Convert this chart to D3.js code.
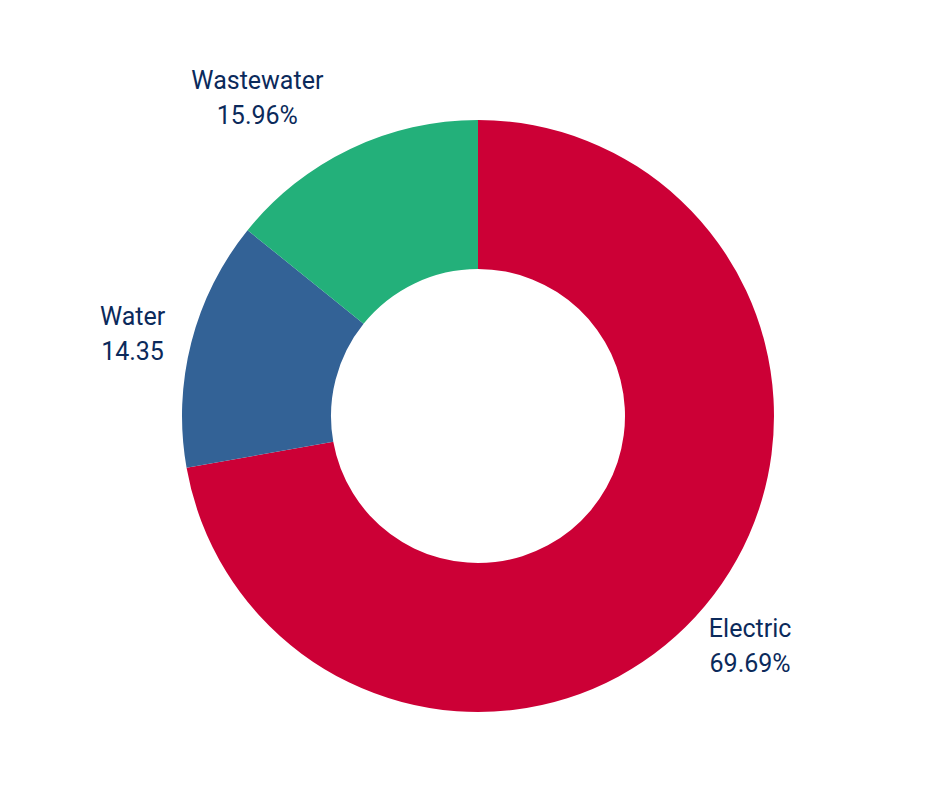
<html>
<head>
    <title>Donut Chart</title>
    <meta charset="utf-8" />
    <style>
      body {
    margin: 0;
    padding: 0;
    background: #fff;
}

.label text {
    fill: #0b2a5b;
    font-family: Roboto, sans-serif;
    font-size: 25px;
    text-anchor: middle;
}
    </style>
    <script src="https://d3js.org/d3.v7.min.js"></script>
</head>
<body>
    <script>
var categories = ["Electric", "Water", "Wastewater"];
var values = [72.2, 13.6, 14.2];
var valueLabels = ["69.69%", "14.35", "15.96%"];
var colors = ["#cc0036", "#336296", "#23b07a"];

var width = 940, height = 788;
var cx = 478, cy = 416, outerR = 296, innerR = 147;

var data = categories.map(function (c, i) {
    return { name: c, value: values[i], label: valueLabels[i], color: colors[i] };
});

var svg = d3.select("body").append("svg")
    .attr("width", width)
    .attr("height", height);

var g = svg.append("g").attr("transform", "translate(" + cx + "," + cy + ")");

var pie = d3.pie().sort(null).value(function (d) { return d.value; });
var arc = d3.arc().innerRadius(innerR).outerRadius(outerR);

var arcs = pie(data);

g.selectAll("path.slice")
    .data(arcs)
    .enter().append("path")
    .attr("class", "slice")
    .attr("d", arc)
    .attr("fill", function (d) { return d.data.color; });

// label placement: along mid angle, with small nudges so they clear each other
var labelR = { Electric: 356, Water: 355, Wastewater: 387 };
var labelShift = { Electric: 0.2, Water: -1.1, Wastewater: -9.2 };

var labels = g.selectAll("g.label")
    .data(arcs)
    .enter().append("g")
    .attr("class", "label")
    .attr("transform", function (d) {
        var a = (d.startAngle + d.endAngle) / 2 + labelShift[d.data.name] * Math.PI / 180;
        var r = labelR[d.data.name];
        return "translate(" + (r * Math.sin(a)) + "," + (-r * Math.cos(a)) + ")";
    });

labels.append("text")
    .attr("y", -9)
    .text(function (d) { return d.data.name; });

labels.append("text")
    .attr("y", 26)
    .text(function (d) { return d.data.label; });
    </script>
</body>
</html>
